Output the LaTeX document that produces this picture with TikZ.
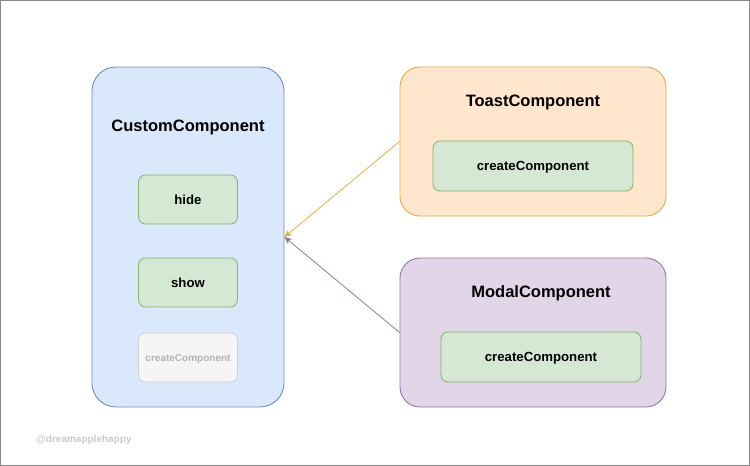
\documentclass[tikz,border=0pt]{standalone}
\usepackage{fontspec}
\setmainfont{Liberation Sans}
\usetikzlibrary{arrows.meta}
\definecolor{bluefill}{HTML}{DAE8FC}
\definecolor{bluedraw}{HTML}{6C8EBF}
\definecolor{greenfill}{HTML}{D5E8D4}
\definecolor{greendraw}{HTML}{82B366}
\definecolor{orangefill}{HTML}{FFE6CC}
\definecolor{orangedraw}{HTML}{E0AE3A}
\definecolor{purplefill}{HTML}{E1D5E7}
\definecolor{purpledraw}{HTML}{9673A6}
\definecolor{grayfill}{HTML}{F5F5F5}
\definecolor{graydraw}{HTML}{D0D0D0}
\definecolor{graytext}{HTML}{B3B3B3}
\definecolor{framegray}{HTML}{888888}
\begin{document}
\begin{tikzpicture}[x=1pt,y=-1pt,
  outer/.style={draw, line width=0.9pt, rounded corners=24pt, inner sep=0pt},
  method/.style={draw=greendraw, fill=greenfill, line width=0.8pt, rounded corners=7pt,
    minimum width=99pt, minimum height=49pt, inner sep=0pt, text height=9.5pt, text depth=0pt,
    font=\fontsize{13.2}{15}\selectfont\bfseries},
  title/.style={font=\fontsize{16.5}{19}\selectfont\bfseries, inner sep=0pt, text height=12pt, text depth=0pt},
  link/.style={line width=0.8pt, -{Stealth[length=7pt,width=6pt,inset=1.5pt]}}
]
\useasboundingbox (0,0) rectangle (750,466);
\draw[framegray, line width=1.5pt] (0,0) rectangle (750,466);

\node[outer, draw=bluedraw, fill=bluefill, minimum width=192pt, minimum height=340pt] (custom) at (188,237) {};
\node[title] (customT) at (188,125) {CustomComponent};
\node[method] (hide) at (188,199.5) {hide};
\node[method] (show) at (188,282.5) {show};
\node[method, draw=graydraw, fill=grayfill, text=graytext, text height=7.2pt, font=\fontsize{10}{12}\selectfont\bfseries] (cc0) at (188,357.5) {createComponent};

\node[outer, rounded corners=20pt, draw=orangedraw, fill=orangefill, minimum width=266pt, minimum height=149pt] (toast) at (533,141.5) {};
\node[title] (toastT) at (533,100) {ToastComponent};
\node[method, minimum width=200pt, minimum height=50pt] (cc1) at (533,166) {createComponent};

\node[outer, rounded corners=20pt, draw=purpledraw, fill=purplefill, minimum width=266pt, minimum height=149pt] (modal) at (533,332.5) {};
\node[title] (modalT) at (541,291) {ModalComponent};
\node[method, minimum width=200pt, minimum height=50pt] (cc2) at (541,357) {createComponent};

\draw[link, orangedraw] (toast.west) -- (custom.east);
\draw[link, purpledraw] (modal.west) -- (custom.east);

\node[text=graytext!70!white, font=\fontsize{10}{12}\selectfont\bfseries, anchor=west, inner sep=0pt] (wm) at (36,440) {@dreamapplehappy};
\end{tikzpicture}
\end{document}
